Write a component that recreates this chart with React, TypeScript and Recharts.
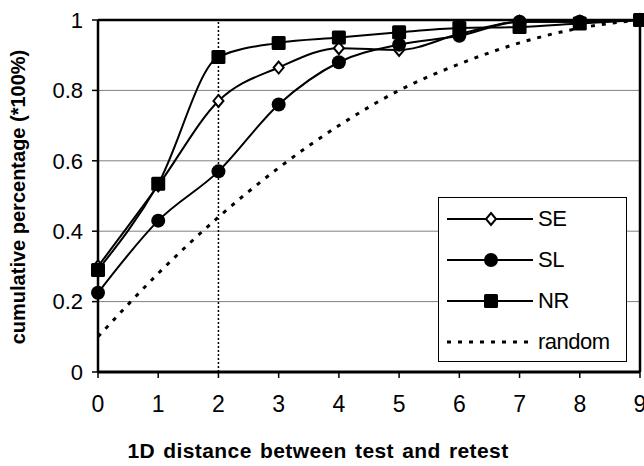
import { LineChart, Line, XAxis, YAxis, CartesianGrid, ReferenceLine } from "recharts"

const distances = [0, 1, 2, 3, 4, 5, 6, 7, 8, 9]
const seValues = [0.3, 0.53, 0.77, 0.865, 0.92, 0.915, 0.96, 0.995, 0.995, 1.0]
const slValues = [0.225, 0.43, 0.57, 0.76, 0.88, 0.93, 0.955, 0.995, 0.995, 1.0]
const nrValues = [0.29, 0.535, 0.895, 0.935, 0.95, 0.965, 0.977, 0.98, 0.99, 1.0]
const randomValues = [0.1, 0.28, 0.44, 0.58, 0.7, 0.8, 0.875, 0.935, 0.977, 1.0]
const yTicks = [0, 0.2, 0.4, 0.6, 0.8, 1]

const data = distances.map((d, i) => ({
  d,
  SE: seValues[i],
  SL: slValues[i],
  NR: nrValues[i],
  random: randomValues[i],
}))

const FONT = "'Liberation Sans', Arial, sans-serif"

function Diamond({ cx, cy }: any) {
  if (cx == null || cy == null) return null
  return (
    <path
      d={`M${cx},${cy - 6} L${cx + 5},${cy} L${cx},${cy + 6} L${cx - 5},${cy} Z`}
      fill="#fff" stroke="#000" strokeWidth={2}
    />
  )
}

function Circle({ cx, cy }: any) {
  if (cx == null || cy == null) return null
  return <circle cx={cx} cy={cy} r={7} fill="#000" />
}

function Square({ cx, cy }: any) {
  if (cx == null || cy == null) return null
  return <rect x={cx - 7} y={cy - 7} width={14} height={14} rx={1.5} fill="#000" />
}

const legendItems = [
  { name: "SE", marker: "diamond" },
  { name: "SL", marker: "circle" },
  { name: "NR", marker: "square" },
  { name: "random", marker: "none" },
]

function LegendBox() {
  return (
    <div style={{
      position: "absolute", left: 438, top: 197, width: 187, height: 163,
      border: "1px solid #000", background: "#fff", fontFamily: FONT,
    }}>
      {legendItems.map((item, i) => (
        <div key={item.name} style={{
          position: "absolute", left: 0, top: 6 + i * 41, height: 30,
          display: "flex", alignItems: "center",
        }}>
          <svg width={96} height={30} style={{ display: "block" }}>
            {item.marker === "none" ? (
              <line x1={8} y1={15} x2={92} y2={15} stroke="#000" strokeWidth={3} strokeDasharray="4 7" />
            ) : (
              <line x1={8} y1={15} x2={94} y2={15} stroke="#000" strokeWidth={2} />
            )}
            {item.marker === "diamond" && <Diamond cx={52} cy={15} />}
            {item.marker === "circle" && <Circle cx={52} cy={15} />}
            {item.marker === "square" && <Square cx={52} cy={15} />}
          </svg>
          <span style={{ fontSize: 22, marginLeft: 3, color: "#000", letterSpacing: -0.5 }}>{item.name}</span>
        </div>
      ))}
    </div>
  )
}

export default function App() {
  return (
    <div style={{ position: "absolute", left: 0, top: 0, width: 644, height: 466, background: "#fff" }}>
      <LineChart width={644} height={466} data={data}
        margin={{ top: 20, right: 4, left: 0, bottom: 0 }}>
        <CartesianGrid vertical={false} stroke="#808080" strokeWidth={1} />
        <XAxis
          dataKey="d" type="number" domain={[0, 9]} ticks={distances}
          height={94} interval={0}
          axisLine={{ stroke: "#000", strokeWidth: 3 }}
          tickLine={{ stroke: "#000", strokeWidth: 1.5 }} tickSize={6}
          tick={{ fill: "#000", fontSize: 23, fontFamily: FONT }} tickMargin={18}
          label={() => (
            <text x={318} y={458} textAnchor="middle" fontFamily={FONT}
              fontSize={21} fontWeight="bold" letterSpacing={0.4} wordSpacing={2} fill="#000">
              1D distance between test and retest
            </text>
          )}
        />
        <YAxis
          type="number" domain={[0, 1]} ticks={yTicks} width={98}
          axisLine={{ stroke: "#000", strokeWidth: 2.5 }}
          tickLine={{ stroke: "#000", strokeWidth: 1.5 }} tickSize={6}
          tick={{ fill: "#000", fontSize: 22, fontFamily: FONT }} tickMargin={9}
          label={() => (
            <text x={25} y={197} textAnchor="middle" fontFamily={FONT}
              fontSize={20} fontWeight="bold" fill="#000"
              transform="rotate(-90 25 197)">
              cumulative percentage (*100%)
            </text>
          )}
        />
        <ReferenceLine y={1} stroke="#000" strokeWidth={2.5} />
        <ReferenceLine x={9} stroke="#000" strokeWidth={2.5} />
        <ReferenceLine x={2} stroke="#000" strokeWidth={1.5} strokeDasharray="2 2" />
        <Line dataKey="random" type="monotone" stroke="#000" strokeWidth={3}
          strokeDasharray="4 7" dot={false} isAnimationActive={false} />
        <Line dataKey="SE" type="monotone" stroke="#000" strokeWidth={2}
          dot={<Diamond />} activeDot={false} isAnimationActive={false} />
        <Line dataKey="SL" type="monotone" stroke="#000" strokeWidth={2}
          dot={<Circle />} activeDot={false} isAnimationActive={false} />
        <Line dataKey="NR" type="monotone" stroke="#000" strokeWidth={2}
          dot={<Square />} activeDot={false} isAnimationActive={false} />
      </LineChart>
      <LegendBox />
    </div>
  )
}
